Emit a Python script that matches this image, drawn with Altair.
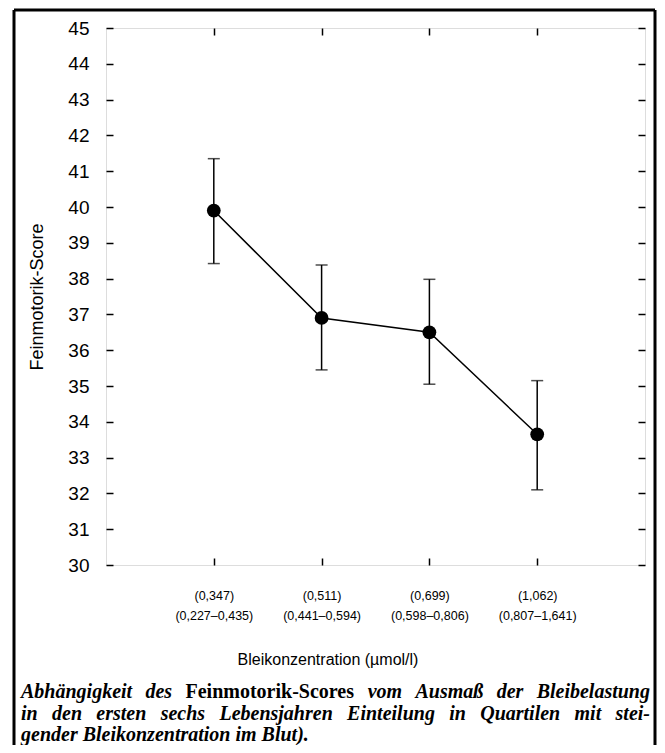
import altair as alt
import pandas as pd

# ---- data ----
quartile = [1, 2, 3, 4]
median_label = ["(0,347)", "(0,511)", "(0,699)", "(1,062)"]
range_label = ["(0,227–0,435)", "(0,441–0,594)", "(0,598–0,806)", "(0,807–1,641)"]
score = [39.9, 36.9, 36.5, 33.65]
score_hi = [41.35, 38.38, 37.98, 35.15]
score_lo = [38.42, 35.45, 35.05, 32.1]
y_ticks = list(range(30, 46))

x_title = "Bleikonzentration (µmol/l)"
y_title = "Feinmotorik-Score"
# caption: (word, upright?) ; the term "Feinmotorik-Scores" is set upright
cap_line1 = [("Abhängigkeit", False), ("des", False), ("Feinmotorik-Scores", True),
             ("vom", False), ("Ausmaß", False), ("der", False), ("Bleibelastung", False)]
cap_line2 = [("in", False), ("den", False), ("ersten", False), ("sechs", False),
             ("Lebensjahren", False), ("Einteilung", False), ("in", False),
             ("Quartilen", False), ("mit", False), ("stei-", False)]
cap_line3 = "gender Bleikonzentration im Blut)."

df = pd.DataFrame(dict(q=quartile, score=score, hi=score_hi, lo=score_lo))
one = pd.DataFrame({"k": [0]})

W, H = 539, 537
OX, OY = 106, 28  # plot origin on page

label_arrays = "[" + ",".join(f"['{a}','{b}']" for a, b in zip(median_label, range_label)) + "]"
label_expr = f"{label_arrays}[datum.value - 1]"

xs = alt.Scale(domain=[0, 5], nice=False, zero=False)
ys = alt.Scale(domain=[30, 45], nice=False, zero=False)

SANS = "Liberation Sans"
SERIF = "Liberation Serif"

ax_x_main = alt.Axis(orient="bottom", values=quartile, labelExpr=label_expr, ticks=False,
                     domain=False, grid=False, labelFont=SANS, labelFontSize=12.5,
                     labelPadding=24, labelLineHeight=20, labelColor="black",
                     labelBaseline="top", title=None)
ax_y_main = alt.Axis(orient="left", values=y_ticks, ticks=False, domain=False, grid=False,
                     labelFont=SANS, labelFontSize=19, labelPadding=17, labelColor="black",
                     title=y_title, titleFont=SANS, titleFontSize=18, titleFontWeight="normal",
                     titleColor="black", titlePadding=21)

tick_style = dict(labels=False, ticks=True, tickSize=7, tickColor="black", tickWidth=1.5,
                  domain=False, grid=False, title=None)
ax_x_in_bottom = alt.Axis(orient="top", offset=-H, values=quartile, **tick_style)
ax_y_in_left = alt.Axis(orient="right", offset=-W, values=y_ticks, **tick_style)
ax_x_in_top = alt.Axis(orient="bottom", offset=-H, values=quartile, **tick_style)
ax_y_in_right = alt.Axis(orient="left", offset=-W, values=y_ticks, **tick_style)

base = alt.Chart(df)

line = base.mark_line(color="black", strokeWidth=1.5).encode(
    x=alt.X("q:Q", scale=xs, axis=ax_x_main),
    y=alt.Y("score:Q", scale=ys, axis=ax_y_main),
)
bars = base.mark_rule(color="black", strokeWidth=1.5).encode(
    x=alt.X("q:Q", scale=xs, axis=ax_x_in_bottom),
    y=alt.Y("lo:Q", scale=ys, axis=ax_y_in_left),
    y2="hi:Q",
)
points = base.mark_circle(color="black", opacity=1, size=190).encode(
    x=alt.X("q:Q", scale=xs, axis=ax_x_in_top),
    y=alt.Y("score:Q", scale=ys, axis=ax_y_in_right),
)
cap_hi = base.mark_tick(color="black", thickness=1.5, size=12, orient="horizontal").encode(
    x=alt.X("q:Q", scale=xs, axis=None), y=alt.Y("hi:Q", scale=ys, axis=None))
cap_lo = base.mark_tick(color="black", thickness=1.5, size=12, orient="horizontal").encode(
    x=alt.X("q:Q", scale=xs, axis=None), y=alt.Y("lo:Q", scale=ys, axis=None))


def rule(x1, y1, x2, y2):
    return alt.Chart(one).mark_rule(color="black", strokeWidth=3).encode(
        x=alt.value(x1 - OX), x2=alt.value(x2 - OX), y=alt.value(y1 - OY), y2=alt.value(y2 - OY))


BL, BR, BT, BB = 14, 655, 10, 800
border = [rule(BL, BT, BR, BT), rule(BL, BT, BL, BB), rule(BR, BT, BR, BB)]


def txt(s, px, py, size, font, weight="normal", style="normal", align="left", baseline="alphabetic"):
    return alt.Chart(one).mark_text(text=s, font=font, fontSize=size, fontWeight=weight,
                                    fontStyle=style, align=align, baseline=baseline,
                                    color="black").encode(x=alt.value(px - OX), y=alt.value(py - OY))


# approximate advance widths (em/1000) of Times bold italic / bold, for justifying the caption
BI = dict(zip("ABCDEFGHIJKLMNOPQRSTUVWXYZ",
              [667, 667, 667, 722, 667, 667, 722, 778, 389, 500, 667, 611, 889, 722, 722, 611,
               722, 667, 556, 611, 722, 667, 889, 667, 611, 611]))
BI.update(zip("abcdefghijklmnopqrstuvwxyz",
              [500, 500, 444, 500, 444, 333, 500, 556, 278, 278, 500, 278, 778, 556, 500, 500,
               500, 389, 389, 278, 556, 444, 667, 500, 444, 389]))
BI.update({"ä": 500, "ß": 500, "-": 333, ".": 250, ")": 333, "(": 333, " ": 250})
BU = dict(BI)
BU.update({"F": 611, "S": 556, "e": 444, "i": 278, "n": 556, "m": 833, "o": 500, "t": 333,
           "r": 444, "k": 556, "c": 444, "s": 389, "-": 333})

CAP_SIZE = 20
LEFT, RIGHT = 21, 650


def wwidth(word, upright):
    tbl = BU if upright else BI
    return sum(tbl.get(c, 500) for c in word) / 1000 * CAP_SIZE


def justified(words, baseline):
    widths = [wwidth(w, u) for w, u in words]
    gap = (RIGHT - LEFT - sum(widths)) / (len(words) - 1)
    out, x = [], LEFT
    for i, ((w, u), wd) in enumerate(zip(words, widths)):
        if i == len(words) - 1:
            out.append(txt(w, RIGHT, baseline, CAP_SIZE, SERIF, "bold",
                           "normal" if u else "italic", align="right"))
        else:
            out.append(txt(w, x, baseline, CAP_SIZE, SERIF, "bold", "normal" if u else "italic"))
        x += wd + gap
    return out


texts = [txt(x_title, 328, 660, 16, SANS, baseline="middle", align="center")]
texts += justified(cap_line1, 698)
texts += justified(cap_line2, 719.5)
texts.append(txt(cap_line3, LEFT, 740.5, CAP_SIZE, SERIF, "bold", "italic"))

chart = alt.layer(line, bars, points, cap_hi, cap_lo, *border, *texts).resolve_axis(
    x="independent", y="independent"
).properties(
    width=W, height=H,
    autosize=alt.AutoSizeParams(type="none"),
    padding={"left": 98, "top": 20, "right": 12, "bottom": 180},
).configure_view(stroke="black", strokeWidth=1.5).configure(background="white")

chart.save("out.html", embed_options={"renderer": "svg", "actions": False})
